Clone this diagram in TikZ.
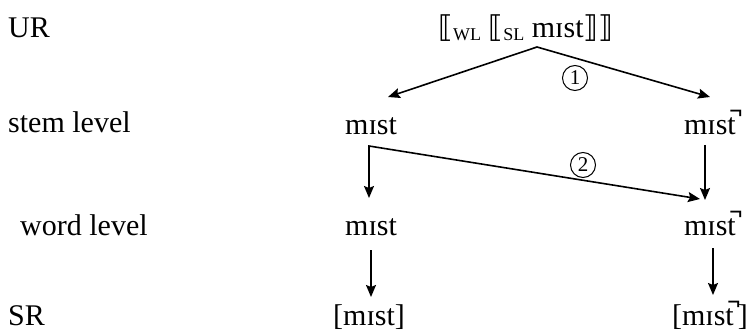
\documentclass[tikz,border=0pt]{standalone}
\usepackage{fontspec}
\setmainfont{Liberation Serif}
\newfontfamily\djv{DejaVu Sans}
\usetikzlibrary{arrows.meta}
\newcommand{\lbb}{{\djv\char"27E6}}
\newcommand{\rbb}{{\djv\char"27E7}}
\newcommand{\subl}[1]{\raisebox{-3pt}{\fontsize{18}{18}\selectfont #1}}
\newcommand{\unrel}{mɪst̚\kern4pt}
\begin{document}
\begin{tikzpicture}[x=1pt,y=-1pt,
  lab/.style={anchor=base west,inner sep=0pt,font=\fontsize{30}{32}\selectfont},
  labr/.style={lab,anchor=base east},
  arr/.style={line width=1.6pt,-{Stealth[length=12pt,width=10pt,inset=2pt]}},
  arrb/.style={line width=1.6pt,{Stealth[length=12pt,width=10pt,inset=2pt]}-{Stealth[length=12pt,width=10pt,inset=2pt]}},
  num/.style={draw,circle,line width=1pt,inner sep=0pt,minimum size=25pt,font=\fontsize{21}{22}\selectfont}]
\useasboundingbox (0,0) rectangle (750,334);
% row labels
\node[lab] (ur) at (8,38) {UR};
\node[lab] (stem) at (8,133) {stem level};
\node[lab] (word) at (20,235) {word level};
\node[lab] (sr) at (8,325) {SR};
% forms
\node[lab] (term) at (438,38) {\lbb\subl{WL} \lbb\subl{SL} mɪst\rbb\rbb};
\node[lab] (sl1) at (345,135) {mɪst};
\node[labr] (sl2) at (740,135) {\unrel};
\node[lab] (wl1) at (345,235) {mɪst};
\node[labr] (wl2) at (740,235) {\unrel};
\node[lab] (sr1) at (333,325) {[mɪst]};
\node[labr] (sr2) at (748,325) {[\unrel]};
% coordinates
\coordinate (apex) at (537,47);
\coordinate (t1) at (388,97);
\coordinate (t2) at (710,97);
\coordinate (corner) at (369,146);
\coordinate (c1) at (369,198);
\coordinate (c2) at (700,199);
\coordinate (r1) at (705,145);
\coordinate (r2) at (705,200);
\coordinate (d1) at (371,250);
\coordinate (d2) at (371,297);
\coordinate (e1) at (713,248);
\coordinate (e2) at (713,295);
% arrows
\draw[arr] (apex) -- (t1);
\draw[arr] (apex) -- (t2);
\draw[arrb,line join=miter] (c1) -- (corner) -- (c2);
\draw[arr] (r1) -- (r2);
\draw[arr] (d1) -- (d2);
\draw[arr] (e1) -- (e2);
% numbers
\node[num] (n1) at (575,78) {1};
\node[num] (n2) at (583,165) {2};
\end{tikzpicture}
\end{document}
